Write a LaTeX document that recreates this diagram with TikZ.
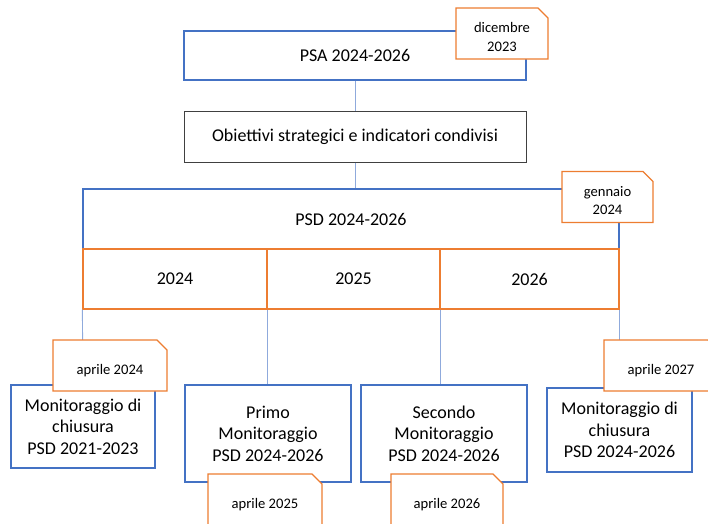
\documentclass[tikz,border=0pt]{standalone}
\usepackage{fontspec}
\setmainfont{Carlito}
\usepackage{tikz}
\usetikzlibrary{shapes.misc}

\definecolor{psablue}{HTML}{4472C4}
\definecolor{psaorange}{HTML}{ED7D31}
\definecolor{linkblue}{HTML}{8FAADC}
\newcommand{\tagtext}[1]{\raisebox{-5pt}[\height][\depth]{\begin{tabular}{@{}c@{}}#1\end{tabular}}}

\begin{document}
\begin{tikzpicture}[x=1pt, y=-1pt,
  box/.style={draw=psablue, line width=1.3pt, fill=white, inner sep=0pt, align=center, font=\fontsize{18}{21.5}\selectfont},
  cell/.style={box, draw=psaorange},
  tagbox/.style={chamfered rectangle, chamfered rectangle corners=north east, chamfered rectangle sep=5pt, draw=psaorange, line width=1.3pt, fill=white, inner sep=0pt, minimum height=51pt, font=\fontsize{14.6}{18.5}\selectfont},
  link/.style={draw=linkblue, line width=0.9pt}]
\useasboundingbox (0,0) rectangle (708,523);

% piano e obiettivi
\node[box, minimum width=342pt, minimum height=49pt] (psa) at (355,55.5) {PSA 2024-2026};
\node[box, draw=black!75, line width=1pt, minimum width=342pt, minimum height=51pt] (obj) at (355,136.5) {Obiettivi strategici e indicatori condivisi};
\node[box, minimum width=536pt, minimum height=60pt] (psd) at (351,219) {PSD 2024-2026};
\node[cell, minimum width=184pt, minimum height=60pt] (c24) at (175,279) {2024};
\node[cell, minimum width=173pt, minimum height=60pt] (c25) at (353.5,279) {2025};
\node[cell, minimum width=179pt, minimum height=60pt] (c26) at (529.5,279) {2026};

% monitoraggi
\node[box, minimum width=144pt, minimum height=83pt] (mon21) at (83,426.5) {Monitoraggio di\\chiusura\\PSD 2021-2023};
\node[box, minimum width=166pt, minimum height=97pt] (primo) at (268,433.5) {Primo\\Monitoraggio\\PSD 2024-2026};
\node[box, minimum width=166pt, minimum height=97pt] (secondo) at (444,433.5) {Secondo\\Monitoraggio\\PSD 2024-2026};
\node[box, minimum width=145pt, minimum height=84pt] (mon24) at (619.5,430) {Monitoraggio di\\chiusura\\PSD 2024-2026};

\path[link]
  (psa) edge (obj)
  (obj.south) edge (obj.south |- psd.north)
  (c24.south west) edge (mon21.north)
  (c24.south east) edge (c24.south east |- primo.north)
  (c25.south east) edge (c25.south east |- secondo.north)
  (c26.south east) edge (c26.south east |- mon24.north);

% date
\node[tagbox, minimum width=92pt] (dic23) at (502,33.5) {\tagtext{dicembre\\2023}};
\node[tagbox, minimum width=91pt] (gen24) at (607.5,197) {\tagtext{gennaio\\2024}};
\node[tagbox, minimum width=114pt] (apr24) at (110,365.5) {\tagtext{aprile 2024}};
\node[tagbox, minimum width=114pt] (apr25) at (265,499.5) {\tagtext{aprile 2025}};
\node[tagbox, minimum width=112pt] (apr26) at (447,499.5) {\tagtext{aprile 2026}};
\node[tagbox, minimum width=114pt] (apr27) at (661,365.5) {\tagtext{aprile 2027}};
\end{tikzpicture}
\end{document}
